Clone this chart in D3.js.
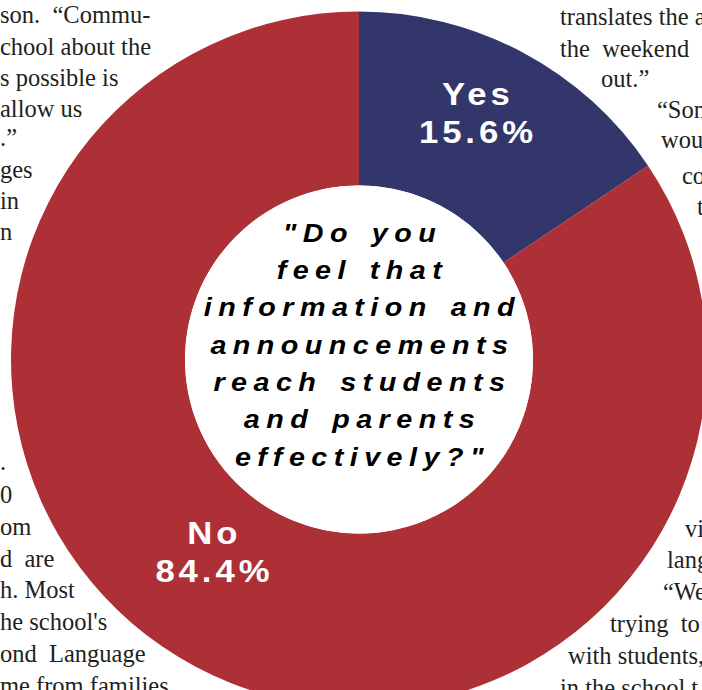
<!DOCTYPE html>
<html>
<head>
<meta charset="utf-8">
<script src="https://cdn.jsdelivr.net/npm/d3@7"></script>
<style>
  html, body { margin: 0; padding: 0; background: #fff; overflow: hidden; }
  svg { display: block; }
</style>
</head>
<body>
<div id="chart"></div>
<script>
// survey answers
const answers = ['Yes', 'No'];
const shares = [15.6, 84.4];
const colors = ['#33366a', '#ad3036'];
const question = [
  '"Do you',
  'feel that',
  'information and',
  'announcements',
  'reach students',
  'and parents',
  'effectively?"',
];

// newspaper column fragments around the graphic
const pageText = [
  ['son.  \u201cCommu-', 0, 23],
  ['chool about the', 0, 55],
  ['s possible is', 0, 86],
  ['allow us', 0, 117],
  ['.\u201d', 0, 146],
  ['ges', 0, 178],
  ['in', 0, 209],
  ['n', 0, 240],
  ['.', 0, 470],
  ['0', 0, 503],
  ['om', 0, 535],
  ['d  are', 0, 567],
  ['h. Most', 0, 598],
  ['he school\'s', 0, 630],
  ['ond  Language', 0, 662],
  ['me from families', 0, 694],
  ['translates the a', 560, 25],
  ['the  weekend', 560, 57],
  ['out.\u201d', 601, 87],
  ['\u201cSon', 657, 118],
  ['wou', 661, 148],
  ['co', 682, 184],
  ['t', 697, 215],
  ['vi', 685, 537],
  ['lang', 667, 568],
  ['\u201cWe', 663, 600],
  ['trying  to', 610, 632],
  ['with students,', 568, 664],
  ['in the school t', 560, 696],
];

const width = 702;
const height = 690;
const cx = 359;
const cy = 359.5;
const outerR = 348;
const innerR = 174;

const svg = d3
  .select('#chart')
  .append('svg')
  .attr('width', width)
  .attr('height', height);

svg
  .append('g')
  .selectAll('text')
  .data(pageText)
  .join('text')
  .attr('x', (d) => d[1])
  .attr('y', (d) => d[2])
  .attr('font-family', '"Liberation Serif", "Times New Roman", serif')
  .attr('font-size', 24.5)
  .attr('fill', '#231f20')
  .style('white-space', 'pre')
  .text((d) => d[0]);

const data = answers.map((a, i) => ({ answer: a, share: shares[i], color: colors[i] }));

const pie = d3
  .pie()
  .sort(null)
  .value((d) => d.share);

const arc = d3.arc().innerRadius(innerR).outerRadius(outerR);

const g = svg.append('g').attr('transform', `translate(${cx}, ${cy})`);

const arcs = pie(data);

g.selectAll('path')
  .data(arcs)
  .join('path')
  .attr('d', arc)
  .attr('fill', (d) => d.data.color);

// label placement (angle in degrees from top, radius)
const labelPlace = { Yes: [25.5, 271], No: [217, 244] };

const labels = g
  .selectAll('g.label')
  .data(arcs)
  .join('g')
  .attr('class', 'label')
  .attr('transform', (d) => {
    let [deg, r] = labelPlace[d.data.answer];
    let a = (deg * Math.PI) / 180;
    return `translate(${r * Math.sin(a)}, ${-r * Math.cos(a)}) scale(1.12, 1)`;
  });

labels
  .selectAll('text')
  .data((d) => [d.data.answer, `${d.data.share.toFixed(1)}%`])
  .join('text')
  .attr('x', 2)
  .attr('y', (d, i) => (i === 0 ? -10 : 28))
  .attr('text-anchor', 'middle')
  .attr('font-family', '"Liberation Sans", Arial, sans-serif')
  .attr('font-weight', 'bold')
  .attr('font-size', 31)
  .attr('letter-spacing', 3.5)
  .attr('fill', '#fff')
  .text((d) => d);

// question in the hole
g.append('circle').attr('r', innerR).attr('fill', '#fff');

const lineGap = 37.4;
g.append('g')
  .attr('transform', 'scale(1.15, 1)')
  .selectAll('text')
  .data(question)
  .join('text')
  .attr('x', 3)
  .attr('y', (d, i) => -118 + i * lineGap)
  .attr('text-anchor', 'middle')
  .attr('font-family', '"Liberation Sans", Arial, sans-serif')
  .attr('font-weight', 'bold')
  .attr('font-style', 'italic')
  .attr('font-size', 25)
  .attr('letter-spacing', 5.6)
  .attr('word-spacing', 3)
  .attr('fill', '#000')
  .text((d) => d);
</script>
</body>
</html>
